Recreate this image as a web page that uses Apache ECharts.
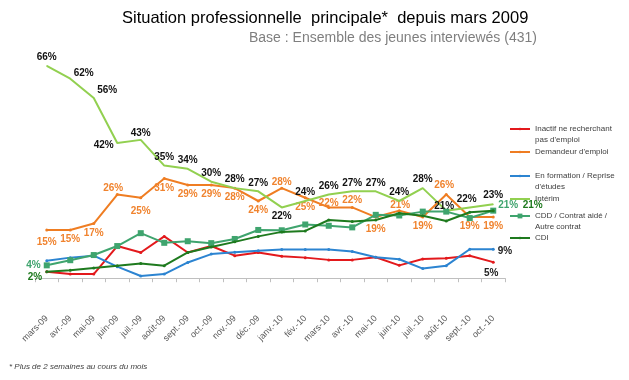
<!DOCTYPE html>
<html><head><meta charset="utf-8">
<script src="https://cdn.jsdelivr.net/npm/echarts@6/dist/echarts.min.js"></script>
<style>html,body{margin:0;padding:0;background:#fff}#c{width:629px;height:380px}</style>
</head><body><div id="c"></div>
<script>
const categories = ['mars-09','avr.-09','mai-09','juin-09','juil.-09','août-09','sept.-09','oct.-09','nov.-09','déc.-09','janv.-10','fév.-10','mars-10','avr.-10','mai-10','juin-10','juil.-10','août-10','sept.-10','oct.-10'];
const seriesNames = ['Inactif ne recherchant pas d\'emploi','Demandeur d\'emploi','En formation / Reprise d\'études','Intérim','CDD / Contrat aidé / Autre contrat','CDI'];
const inactif   = [2,1.3,1.3,10,8,13,8,10,7,8,6.8,6.4,5.7,5.7,6.5,4,6,6.2,7,5];
const demandeur = [15,15,17,26,25,31,29,29,28,24,28,25,22,22,19,21,19,26,19,19];
const formation = [5.4,6.4,7,3.6,0.7,1.3,4.9,7.5,8.1,8.5,8.9,8.9,8.9,8.3,6.5,5.9,3,3.9,9,9];
const interim   = [66,62,56,42,43,35,34,30,28,27,22,24,26,27,27,24,28,21,22,23];
const cdd       = [4,5.6,7.2,10,14,11,11.5,10.9,12.2,15,14.9,16.7,16.3,15.8,19.7,19.5,20.7,20.7,18.7,21];
const cdi       = [2,2.5,3.2,3.9,4.6,3.9,8,9.7,11.3,13,14.4,14.7,18.1,17.6,18.1,20.2,19.4,17.8,20.5,21];

// label placement (position, dx, dy) per point index
const interimLabels = {0:['top'],1:['right',0,-5],2:['right',0,-8],3:['left',0,2],4:['top',0,2],5:['top'],6:['top'],7:['top'],8:['top'],9:['top'],10:['bottom'],11:['top'],12:['top'],13:['top'],14:['top'],15:['top'],16:['top'],17:['top',-2,4],18:['top',-3,0],19:['top']};
const demandeurLabels = {0:['bottom',0,3],1:['bottom'],2:['bottom'],3:['top',-4,3],4:['bottom',0,4],5:['bottom'],6:['bottom'],7:['bottom'],8:['bottom'],9:['bottom'],10:['top',0,4],11:['bottom'],12:['top',0,5],13:['top',0,2],14:['bottom',0,3],15:['top',1,4],16:['bottom'],17:['top',-2,0],18:['bottom'],19:['bottom']};
const inactifLabels = {19:['bottom',-2,2]};
const formationLabels = {19:['right',0,2]};
const cddLabels = {0:['left',0,0],19:['right',-1,-5]};
const cdiLabels = {0:['left',0,5],19:['right',25,-5]};

const colors = ['#E3191C','#EF7D22','#2C84D1','#92D050','#3FA46E','#1E7A1E'];
const labelColors = ['#222','#F0832E','#222','#111','#3FA46E','#1E7A1E'];

function withLabels(values, spec, color) {
  return values.map((v, i) => {
    const s = spec[i];
    if (!s) return v;
    return {value: v, label: {show: true, position: s[0], offset: [s[1] || 0, s[2] || 0], color: color}};
  });
}

const FONT = 'Liberation Sans';
const dataSets = [inactif, demandeur, formation, interim, cdd, cdi];
const labelSets = [inactifLabels, demandeurLabels, formationLabels, interimLabels, cddLabels, cdiLabels];
const symbols = ['circle','circle','circle','circle','rect','circle'];
const symbolSizes = [3,3,3,1,6,3];

const series = seriesNames.map((name, k) => ({
  name: name,
  type: 'line',
  data: withLabels(dataSets[k], labelSets[k], labelColors[k]),
  symbol: symbols[k],
  symbolSize: symbolSizes[k],
  showSymbol: true,
  lineStyle: {width: 2, color: colors[k]},
  itemStyle: {color: colors[k]},
  z: 2 + k,
  label: {show: false, distance: 3, fontSize: 10, fontWeight: 'bold', fontFamily: FONT,
          formatter: p => Math.round(p.value) + '%'},
  animation: false
}));

const legendDisplay = {
  [seriesNames[0]]: '\nInactif ne recherchant\npas d\'emploi',
  [seriesNames[1]]: 'Demandeur d\'emploi',
  [seriesNames[2]]: '\nEn formation / Reprise\nd\'études',
  [seriesNames[3]]: 'Intérim',
  [seriesNames[4]]: '\nCDD / Contrat aidé /\nAutre contrat',
  [seriesNames[5]]: 'CDI'
};
const legendTops = [112.5, 146.5, 159.5, 193.5, 199.5, 232.5];
const legendIconH = [3, 3, 3, 2, 6, 3];
const legends = seriesNames.map((name, k) => ({
  data: [name], left: 509, top: legendTops[k], padding: 0, orient: 'vertical',
  itemWidth: 20, itemHeight: legendIconH[k], itemGap: 0, selectedMode: false,
  formatter: n => legendDisplay[n],
  textStyle: {fontSize: 8, color: '#404040', fontFamily: FONT, lineHeight: 11}
}));

const chart = echarts.init(document.getElementById('c'), null, {renderer: 'canvas'});
chart.setOption({
  backgroundColor: '#fff',
  animation: false,
  title: [
    {text: 'Situation professionnelle  principale*  depuis mars 2009', left: 122, top: 10, padding: 0,
     textStyle: {fontSize: 16.5, fontWeight: 'normal', color: '#000', fontFamily: FONT}},
    {text: 'Base : Ensemble des jeunes interviewés (431)', left: 249, top: 31, padding: 0,
     textStyle: {fontSize: 14, fontWeight: 'normal', color: '#7F7F7F', fontFamily: FONT}},
    {text: '* Plus de 2 semaines au cours du mois', left: 9, top: 363, padding: 0,
     textStyle: {fontSize: 8, fontStyle: 'italic', fontWeight: 'normal', color: '#404040', fontFamily: FONT}}
  ],
  legend: legends,
  grid: {left: 35, right: 124, top: 53, bottom: 68, containLabel: false},
  xAxis: {
    type: 'category', data: categories, boundaryGap: true,
    axisLine: {lineStyle: {color: '#BFBFBF', width: 1}},
    axisTick: {show: true, interval: 0, length: 4, lineStyle: {color: '#BFBFBF'}},
    axisLabel: {interval: 0, rotate: 45, margin: 5, fontSize: 9, color: '#595959', fontFamily: FONT}
  },
  yAxis: {type: 'value', min: -10.5, max: 70, show: false, splitLine: {show: false}},
  series: series
});
</script></body></html>
